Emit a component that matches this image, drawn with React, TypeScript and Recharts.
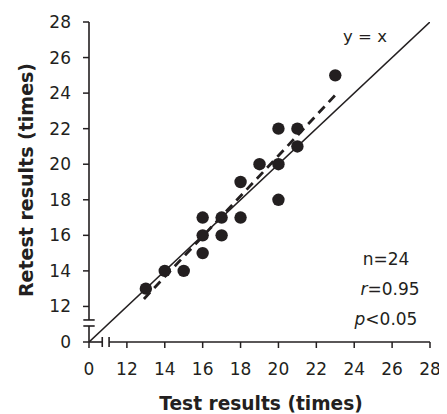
import React from 'react';
import { ComposedChart, Scatter, XAxis, YAxis, ReferenceLine } from 'recharts';

// ---- data ----
const testResults = [13, 14, 15, 16, 16, 16, 17, 17, 18, 18, 19, 20, 20, 20, 21, 21, 23];
const retestResults = [13, 14, 14, 15, 16, 17, 16, 17, 17, 19, 20, 20, 18, 22, 21, 22, 25];
const identityX = [0, 28];
const identityY = [0, 28];
const fitX = [12.9, 23.1];
const fitY = [12.42, 24.0];
const tickValues = [0, 12, 14, 16, 18, 20, 22, 24, 26, 28];
const statsLines = ['n=24', 'r=0.95', 'p<0.05'];

// broken axis: 0 is drawn where 10 would be
const brk = (v: number) => (v >= 10 ? v : 10);
const unbrk = (v: number) => (v === 10 ? '0' : String(v));

const points = testResults.map((x, i) => ({ x: brk(x), y: brk(retestResults[i]) }));
const identity = identityX.map((x, i) => ({ x: brk(x), y: brk(identityY[i]) }));
const fit = fitX.map((x, i) => ({ x: brk(x), y: brk(fitY[i]) }));
const ticks = tickValues.map(brk);

const INK = '#231f20';
const FONT = '"DejaVu Sans", Verdana, sans-serif';

const Dot = (props: any) => <circle cx={props.cx} cy={props.cy} r={6.2} fill={INK} />;
const NoDot = () => <g />;

// axis break positions (axis coordinates)
const xBreak = [10.7, 11.06];
const yBreak = [10.9, 11.24];

export default function App() {
  return (
    <ComposedChart
      width={439}
      height={406}
      margin={{ top: 14, right: 17, left: 0, bottom: 0 }}
      style={{ fontFamily: FONT }}
    >
      <XAxis
        type="number"
        dataKey="x"
        domain={[10, 28]}
        ticks={ticks}
        tickFormatter={unbrk}
        axisLine={false}
        tickLine={{ stroke: INK, strokeWidth: 1.5 }}
        tickSize={6}
        tickMargin={15}
        height={72}
        tick={{ fill: INK, fontSize: 17, fontFamily: FONT }}
        allowDataOverflow
      />
      <YAxis
        type="number"
        dataKey="y"
        domain={[10, 28]}
        ticks={ticks}
        tickFormatter={unbrk}
        axisLine={false}
        tickLine={{ stroke: INK, strokeWidth: 1.5 }}
        tickSize={6}
        tickMargin={12}
        width={81}
        tick={{ fill: INK, fontSize: 17, fontFamily: FONT }}
        allowDataOverflow
      />
      {/* axis lines with breaks */}
      <ReferenceLine segment={[{ x: 10, y: 10 }, { x: xBreak[0], y: 10 }]} stroke={INK} strokeWidth={1.6} ifOverflow="visible" />
      <ReferenceLine segment={[{ x: xBreak[1], y: 10 }, { x: 28, y: 10 }]} stroke={INK} strokeWidth={1.6} ifOverflow="visible" />
      <ReferenceLine segment={[{ x: xBreak[0], y: 9.72 }, { x: xBreak[0], y: 10.28 }]} stroke={INK} strokeWidth={1.6} ifOverflow="visible" />
      <ReferenceLine segment={[{ x: xBreak[1], y: 9.72 }, { x: xBreak[1], y: 10.28 }]} stroke={INK} strokeWidth={1.6} ifOverflow="visible" />
      <ReferenceLine segment={[{ x: 10, y: 10 }, { x: 10, y: yBreak[0] }]} stroke={INK} strokeWidth={1.6} ifOverflow="visible" />
      <ReferenceLine segment={[{ x: 10, y: yBreak[1] }, { x: 10, y: 28 }]} stroke={INK} strokeWidth={1.6} ifOverflow="visible" />
      <ReferenceLine segment={[{ x: 9.7, y: yBreak[0] }, { x: 10.3, y: yBreak[0] }]} stroke={INK} strokeWidth={1.6} ifOverflow="visible" />
      <ReferenceLine segment={[{ x: 9.7, y: yBreak[1] }, { x: 10.3, y: yBreak[1] }]} stroke={INK} strokeWidth={1.6} ifOverflow="visible" />

      <Scatter
        data={identity}
        line={{ stroke: INK, strokeWidth: 1.6 }}
        shape={NoDot}
        isAnimationActive={false}
      />
      <Scatter
        data={fit}
        line={{ stroke: INK, strokeWidth: 2.8, strokeDasharray: '9 6' }}
        shape={NoDot}
        isAnimationActive={false}
      />
      <Scatter data={points} shape={Dot} isAnimationActive={false} />

      <text x={357} y={34} textAnchor="middle" fill={INK} fontSize={16.5} fontFamily={FONT}>y = x</text>
      <text x={378} y={257} textAnchor="middle" fill={INK} fontSize={17} fontFamily={FONT}>{statsLines[0]}</text>
      <text x={382} y={287} textAnchor="middle" fill={INK} fontSize={17} fontFamily={FONT}>
        <tspan fontStyle="italic">{statsLines[1].slice(0, 1)}</tspan>
        <tspan>{statsLines[1].slice(1)}</tspan>
      </text>
      <text x={378} y={317} textAnchor="middle" fill={INK} fontSize={17} fontFamily={FONT}>
        <tspan fontStyle="italic">{statsLines[2].slice(0, 1)}</tspan>
        <tspan>{statsLines[2].slice(1)}</tspan>
      </text>
      <text x={253} y={402} textAnchor="middle" fill={INK} fontSize={18.6} fontWeight="bold" fontFamily={FONT}>
        Test results (times)
      </text>
      <text
        x={25}
        y={172}
        textAnchor="middle"
        fill={INK}
        fontSize={19}
        fontWeight="bold"
        fontFamily={FONT}
        transform="rotate(-90 25 172)"
      >
        Retest results (times)
      </text>
    </ComposedChart>
  );
}
